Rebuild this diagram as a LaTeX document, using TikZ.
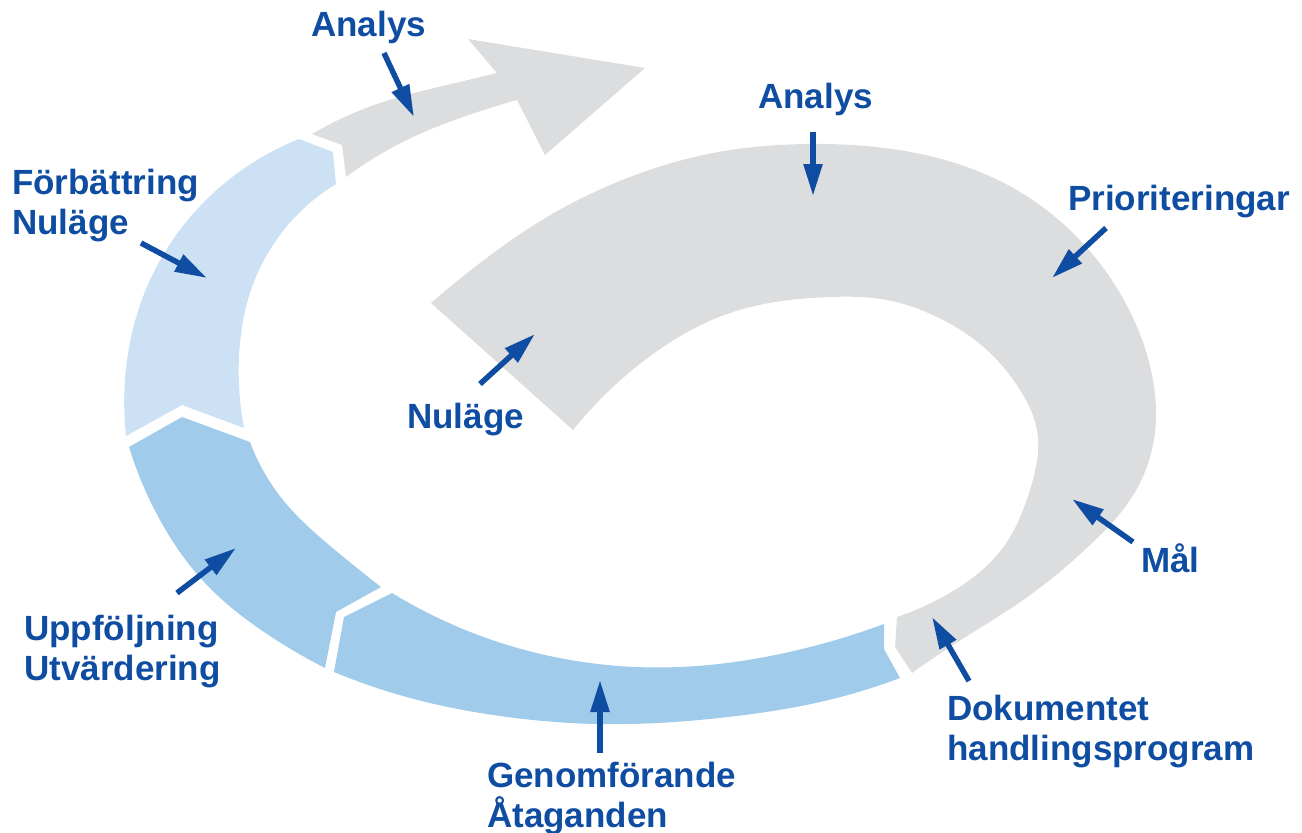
\documentclass[tikz,border=0pt]{standalone}
\usepackage{fontspec}
\setmainfont{Liberation Sans}
\usetikzlibrary{arrows.meta,hobby}
\definecolor{txtblue}{HTML}{0E4DA2}
\definecolor{bandgray}{HTML}{DCDDDF}
\definecolor{palebl}{HTML}{CCE2F4}
\definecolor{midbl}{HTML}{A0CBEB}
\begin{document}
\begin{tikzpicture}[x=1pt,y=-1pt,
  lbl/.style={text=txtblue, font=\bfseries\fontsize{35}{40}\selectfont, inner sep=0pt, anchor=base west, align=left},
  ptr/.style={draw=txtblue, line width=5.5pt, -{Triangle[length=32pt,width=18pt]}},
  grayband/.style={fill=bandgray, use Hobby shortcut},
  palband/.style={fill=palebl, use Hobby shortcut},
  midband/.style={fill=midbl, use Hobby shortcut}]
\useasboundingbox (0,0) rectangle (1302,833);

% main gray spiral (Nuläge -> Dokumentet handlingsprogram)
\fill[grayband] (431,303) .. (480,263) .. (547,217) .. (630,177) .. (713,153) .. (808,144) .. (905,151) .. (1000,181) .. (1075,235) .. (1125,302) .. (1152,375) .. (1153,445) .. (1130,500) .. (1090,545) .. (1026,598) .. (953,645) .. (912,673)
  -- (895,647) -- (897,617)
  .. (953,591) .. (1002,549) .. (1030,490) .. (1037,430) .. (1020,390) .. (987,350) .. (937,317) .. (887,300) .. (830,297) .. (730,313) .. (663,347) .. (613,387) .. (573,430)
  -- cycle;

% bottom blue segment
\fill[midband] (900,678) .. (820,702) .. (728,717) .. (597,724) .. (500,716) .. (414,699) .. (334,672)
  -- (344,617) -- (392,593)
  .. (492,640) .. (590,663) .. (680,667) .. (780,654) .. (884,624)
  -- (884,649) -- cycle;

% left blue segment
\fill[midband] (325,668) .. (267,634) .. (205,583) .. (160,520) .. (129,447)
  -- (182,417) -- (250,442)
  .. (283,500) .. (335,550) .. (381,587)
  -- (336,612) -- cycle;

% pale blue segment
\fill[palband] (126,436) .. (125,380) .. (140,305) .. (168,247) .. (220,187) .. (299,139)
  -- (333,152) -- (336,184)
  .. (283,231) .. (251,290) .. (239,357) .. (244,428)
  -- (182,405) -- cycle;

% gray arrow segment
\fill[grayband] (312,134) .. (380,103) .. (447,85) .. (497,73)
  -- (468,39) -- (645,68) -- (545,155) -- (517,100)
  .. (463,117) .. (413,137) .. (346,177)
  -- (342,145) -- cycle;

% labels
\node[lbl] (analys1) at (311,36) {Analys};
\node[lbl] (analys2) at (758,108) {Analys};
\node[lbl] (prio) at (1068,210) {Prioriteringar};
\node[lbl] (forb) at (12,234) {Förbättring\\Nuläge};
\node[lbl] (nul) at (407,428) {Nuläge};
\node[lbl] (mal) at (1141,572) {Mål};
\node[lbl] (uppf) at (24,680) {Uppföljning\\Utvärdering};
\node[lbl] (dok) at (947,760) {Dokumentet\\handlingsprogram};
\node[lbl] (genf) at (487,827) {Genomförande\\Åtaganden};

% pointer coordinates
\coordinate (p1s) at (384,53);   \coordinate (p1e) at (414,117);
\coordinate (p2s) at (813,132);  \coordinate (p2e) at (813,196);
\coordinate (p3s) at (1106,228); \coordinate (p3e) at (1052,278);
\coordinate (p4s) at (141,243);  \coordinate (p4e) at (207,278);
\coordinate (p5s) at (480,384);  \coordinate (p5e) at (535,334);
\coordinate (p6s) at (1133,542); \coordinate (p6e) at (1072,499);
\coordinate (p7s) at (969,681);  \coordinate (p7e) at (932,617);
\coordinate (p8s) at (600,753);  \coordinate (p8e) at (600,680);
\coordinate (p9s) at (177,593);  \coordinate (p9e) at (236,548);

\foreach \i in {1,...,9} {\draw[ptr] (p\i s) -- (p\i e);}
\end{tikzpicture}
\end{document}
